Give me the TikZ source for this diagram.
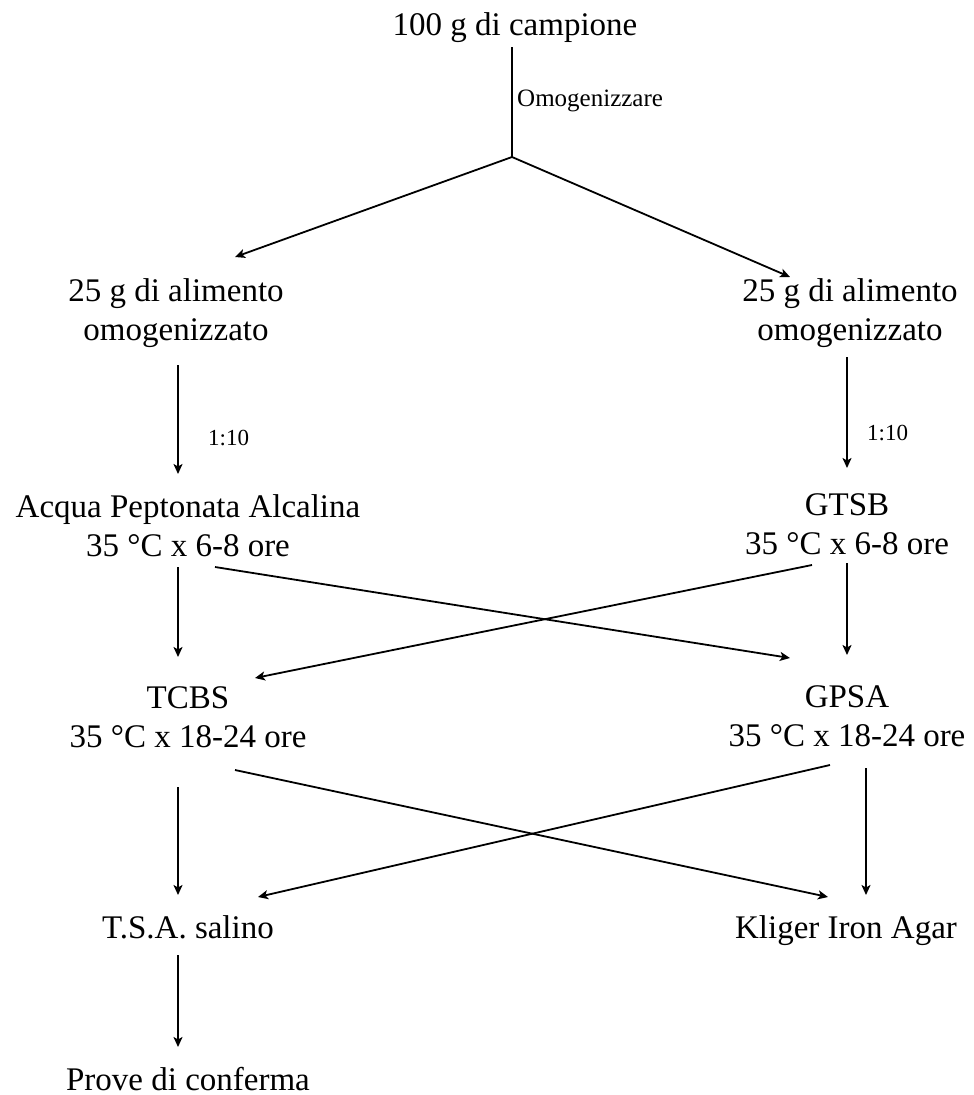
\documentclass[tikz,border=0pt]{standalone}
\usepackage{fontspec}
\setmainfont{Liberation Serif}
\usetikzlibrary{arrows.meta}
\begin{document}
\begin{tikzpicture}[x=1pt,y=-1pt,
  lbl/.style={inner sep=0pt,anchor=base,align=center,font=\fontsize{33}{39}\selectfont},
  note/.style={inner sep=0pt,anchor=base west,font=\fontsize{23}{26}\selectfont},
  link/.style={line width=1.8pt,-{Stealth[length=10pt,width=9pt,inset=2.5pt]}},
  plain/.style={line width=1.8pt}]
\useasboundingbox (0,0) rectangle (974,1095);

% --- texts (multi-line nodes sit on the baseline of their last line) ---
\node[lbl]  (sample) at (515,35)  {100 g di campione};
\node[note,font=\fontsize{25}{28}\selectfont] (hom) at (517,106) {Omogenizzare};
\node[lbl]  (portL)  at (176,340) {25 g di alimento\\omogenizzato};
\node[lbl]  (portR)  at (850,340) {25 g di alimento\\omogenizzato};
\node[note] (dilL)   at (208,445) {1:10};
\node[note] (dilR)   at (867,440) {1:10};
\node[lbl]  (apa)    at (188,556) {Acqua Peptonata Alcalina\\35 °C x 6-8 ore};
\node[lbl]  (gtsb)   at (847,554) {GTSB\\35 °C x 6-8 ore};
\node[lbl]  (tcbs)   at (188,747) {TCBS\\35 °C x 18-24 ore};
\node[lbl]  (gpsa)   at (847,746) {GPSA\\35 °C x 18-24 ore};
\node[lbl]  (tsa)    at (188,938) {T.S.A. salino};
\node[lbl]  (kia)    at (846,938) {Kliger Iron Agar};
\node[lbl]  (conf)   at (188,1090) {Prove di conferma};

% --- connector ends ---
\coordinate (sampleOut) at (512,47);
\coordinate (fork)      at (512,157);
\coordinate (portLIn)   at (235,257);
\coordinate (portRIn)   at (790,277);
\coordinate (portLOut)  at (178,365);
\coordinate (apaIn)     at (178,474);
\coordinate (portROut)  at (847,357);
\coordinate (gtsbIn)    at (847,468);
\coordinate (apaDown)   at (178,567);
\coordinate (tcbsIn)    at (178,657);
\coordinate (apaCross)  at (215,567);
\coordinate (gpsaSide)  at (790,658);
\coordinate (gtsbCross) at (812,565);
\coordinate (tcbsSide)  at (255,678);
\coordinate (gtsbDown)  at (847,563);
\coordinate (gpsaIn)    at (847,655);
\coordinate (tcbsDown)  at (178,787);
\coordinate (tsaIn)     at (178,895);
\coordinate (tcbsCross) at (235,770);
\coordinate (kiaSide)   at (828,897);
\coordinate (gpsaCross) at (830,765);
\coordinate (tsaSide)   at (258,897);
\coordinate (gpsaDown)  at (866,768);
\coordinate (kiaIn)     at (866,895);
\coordinate (tsaDown)   at (178,955);
\coordinate (confIn)    at (178,1047);

% --- connectors ---
\draw[plain] (sampleOut) -- (fork);
\draw[link] (fork) -- (portLIn);
\draw[link] (fork) -- (portRIn);
\draw[link] (portLOut) -- (apaIn);
\draw[link] (portROut) -- (gtsbIn);
\draw[link] (apaDown) -- (tcbsIn);
\draw[link] (apaCross) -- (gpsaSide);
\draw[link] (gtsbCross) -- (tcbsSide);
\draw[link] (gtsbDown) -- (gpsaIn);
\draw[link] (tcbsDown) -- (tsaIn);
\draw[link] (tcbsCross) -- (kiaSide);
\draw[link] (gpsaCross) -- (tsaSide);
\draw[link] (gpsaDown) -- (kiaIn);
\draw[link] (tsaDown) -- (confIn);
\end{tikzpicture}
\end{document}
